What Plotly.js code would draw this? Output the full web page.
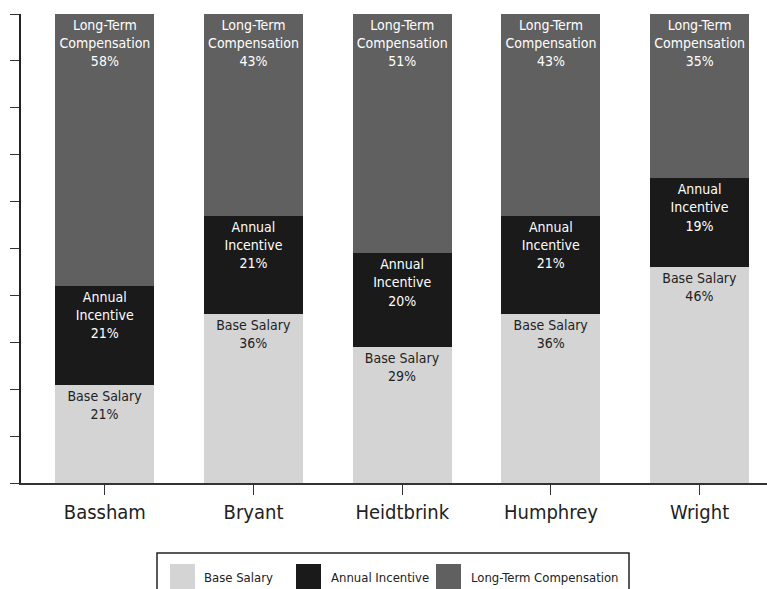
<!DOCTYPE html>
<html>
<head>
<meta charset="utf-8">
<script src="https://cdn.plot.ly/plotly-3.0.1.min.js"></script>
<style>html,body{margin:0;padding:0;background:#fff;}#chart{width:767px;height:589px;}</style>
</head>
<body>
<div id="chart"></div>
<script>
// ---- data ----
const executives = ["Bassham", "Bryant", "Heidtbrink", "Humphrey", "Wright"];
const baseSalary = [21, 36, 29, 36, 46];
const annualIncentive = [21, 21, 20, 21, 19];
const longTermComp = [58, 43, 51, 43, 35];
const seriesNames = ["Base Salary", "Annual Incentive", "Long-Term Compensation"];
const barLabels = ["Base Salary", "Annual<br>Incentive", "Long-Term<br>Compensation"];
const seriesColors = ["#d4d4d4", "#1a1a1a", "#606060"];
const textColors = ["#222222", "#ffffff", "#ffffff"];

const FONT = '"DejaVu Sans Condensed", "Liberation Sans Narrow", sans-serif';
const seriesValues = [baseSalary, annualIncentive, longTermComp];

const traces = seriesValues.map((vals, i) => ({
  type: 'bar',
  name: seriesNames[i],
  x: executives,
  y: vals,
  marker: {color: seriesColors[i], line: {width: 0}},
  text: vals.map(v => barLabels[i] + '<br>' + v + '%'),
  textposition: 'inside',
  insidetextanchor: 'end',
  textangle: 0,
  constraintext: 'none',
  textfont: {family: FONT, size: 14, color: textColors[i]},
  hoverinfo: 'skip',
  showlegend: false
}));

// plot area in pixels: left 21, right 767, top 14, bottom 483
const L = 21, R = 767, T = 14, B = 483;
const px = x => (x - L) / (R - L);
const py = y => (B - y) / (B - T);

const shapes = [{
  type: 'rect', xref: 'paper', yref: 'paper',
  x0: px(157), x1: px(629), y0: py(553), y1: py(600),
  line: {color: '#222', width: 1.5}, fillcolor: 'rgba(0,0,0,0)'
}];
const annotations = [];
const swatchX = [170, 296, 436];
const labelX = [202, 329, 469];
seriesNames.forEach((n, i) => {
  shapes.push({
    type: 'rect', xref: 'paper', yref: 'paper',
    x0: px(swatchX[i]), x1: px(swatchX[i] + 25), y0: py(564), y1: py(589),
    line: {width: 0}, fillcolor: seriesColors[i]
  });
  annotations.push({
    xref: 'paper', yref: 'paper', x: px(labelX[i]), y: py(577),
    xanchor: 'left', yanchor: 'middle', showarrow: false,
    text: n, font: {family: FONT, size: 13, color: '#222'}
  });
});

const layout = {
  width: 767, height: 589,
  margin: {l: L, r: 767 - R, t: T, b: 589 - B, pad: 0},
  paper_bgcolor: '#fff', plot_bgcolor: '#fff',
  barmode: 'stack',
  bargap: 0.334,
  showlegend: false,
  font: {family: FONT, color: '#222'},
  xaxis: {
    range: [-0.564, 4.453],
    showgrid: false, zeroline: false,
    showline: true, linecolor: '#333', linewidth: 2,
    ticks: 'outside', ticklen: 10, tickcolor: '#333', tickwidth: 1,
    tickfont: {family: FONT, size: 20, color: '#222'},
    fixedrange: true
  },
  yaxis: {
    range: [0, 100],
    showgrid: false, zeroline: false,
    showline: true, linecolor: '#222', linewidth: 2,
    ticks: 'outside', ticklen: 9, tickcolor: '#333', tickwidth: 1,
    dtick: 10, tick0: 0,
    showticklabels: false,
    fixedrange: true
  },
  shapes: shapes,
  annotations: annotations
};

Plotly.newPlot('chart', traces, layout, {displayModeBar: false, staticPlot: true});
</script>
</body>
</html>
